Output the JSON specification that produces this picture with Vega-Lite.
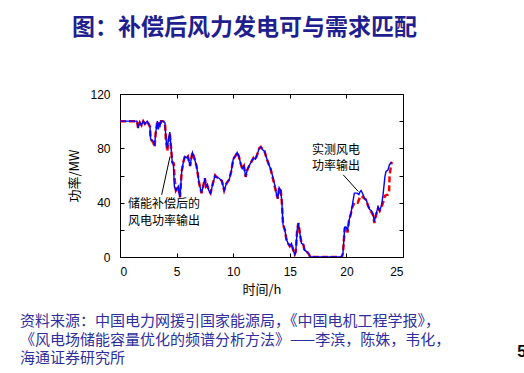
{
  "$schema": "https://vega.github.io/schema/vega-lite/v6.json",
  "autosize": "none",
  "width": 283,
  "height": 163,
  "padding": {"left": 120, "top": 94, "right": 121, "bottom": 116},
  "background": "white",
  "config": {"view": {"stroke": "black", "strokeWidth": 1}, "font": "Liberation Sans"},
  "title": {"text": "图：补偿后风力发电可与需求匹配", "anchor": "start", "frame": "group", "dx": -48, "offset": 48, "fontSize": 23, "font": "Noto Sans CJK SC", "fontWeight": "bold", "color": "#1F1F8F"},
  "datasets": {
    "series": [
      {"t": 0, "v": 100, "s": "补偿"}, {"t": 1.5, "v": 100, "s": "补偿"}, {"t": 1.6, "v": 95, "s": "补偿"}, {"t": 1.75, "v": 99, "s": "补偿"}, {"t": 1.9, "v": 97, "s": "补偿"}, {"t": 2.05, "v": 100, "s": "补偿"}, {"t": 2.2, "v": 98, "s": "补偿"}, {"t": 2.4, "v": 100, "s": "补偿"}, {"t": 2.65, "v": 96, "s": "补偿"}, {"t": 2.7, "v": 87, "s": "补偿"}, {"t": 2.95, "v": 84, "s": "补偿"}, {"t": 3.05, "v": 81, "s": "补偿"}, {"t": 3.15, "v": 91, "s": "补偿"}, {"t": 3.3, "v": 100, "s": "补偿"}, {"t": 3.38, "v": 94, "s": "补偿"}, {"t": 3.47, "v": 99, "s": "补偿"}, {"t": 3.55, "v": 97, "s": "补偿"}, {"t": 3.62, "v": 100, "s": "补偿"}, {"t": 3.8, "v": 100, "s": "补偿"}, {"t": 3.97, "v": 99, "s": "补偿"}, {"t": 4.06, "v": 86, "s": "补偿"}, {"t": 4.18, "v": 78, "s": "补偿"}, {"t": 4.26, "v": 84, "s": "补偿"}, {"t": 4.4, "v": 91, "s": "补偿"}, {"t": 4.5, "v": 81, "s": "补偿"}, {"t": 4.62, "v": 70, "s": "补偿"}, {"t": 4.75, "v": 69, "s": "补偿"}, {"t": 4.82, "v": 58, "s": "补偿"}, {"t": 4.94, "v": 49, "s": "补偿"}, {"t": 5.15, "v": 52, "s": "补偿"}, {"t": 5.24, "v": 46, "s": "补偿"}, {"t": 5.3, "v": 44, "s": "补偿"}, {"t": 5.45, "v": 63, "s": "补偿"}, {"t": 5.6, "v": 70, "s": "补偿"}, {"t": 5.73, "v": 74, "s": "补偿"}, {"t": 5.9, "v": 73, "s": "补偿"}, {"t": 6.0, "v": 74, "s": "补偿"}, {"t": 6.1, "v": 70, "s": "补偿"}, {"t": 6.2, "v": 67, "s": "补偿"}, {"t": 6.26, "v": 71, "s": "补偿"}, {"t": 6.4, "v": 77, "s": "补偿"}, {"t": 6.56, "v": 73, "s": "补偿"}, {"t": 6.76, "v": 67, "s": "补偿"}, {"t": 7.0, "v": 54, "s": "补偿"}, {"t": 7.2, "v": 47, "s": "补偿"}, {"t": 7.35, "v": 52, "s": "补偿"}, {"t": 7.5, "v": 58, "s": "补偿"}, {"t": 7.6, "v": 52, "s": "补偿"}, {"t": 7.7, "v": 53, "s": "补偿"}, {"t": 7.85, "v": 49, "s": "补偿"}, {"t": 8.0, "v": 47, "s": "补偿"}, {"t": 8.2, "v": 54, "s": "补偿"}, {"t": 8.4, "v": 60, "s": "补偿"}, {"t": 8.5, "v": 59, "s": "补偿"}, {"t": 8.75, "v": 58, "s": "补偿"}, {"t": 9.0, "v": 56, "s": "补偿"}, {"t": 9.2, "v": 49, "s": "补偿"}, {"t": 9.4, "v": 54, "s": "补偿"}, {"t": 9.65, "v": 57, "s": "补偿"}, {"t": 9.85, "v": 64, "s": "补偿"}, {"t": 10.0, "v": 72, "s": "补偿"}, {"t": 10.24, "v": 75, "s": "补偿"}, {"t": 10.35, "v": 77, "s": "补偿"}, {"t": 10.5, "v": 74, "s": "补偿"}, {"t": 10.65, "v": 69, "s": "补偿"}, {"t": 10.8, "v": 65, "s": "补偿"}, {"t": 10.95, "v": 67, "s": "补偿"}, {"t": 11.1, "v": 59, "s": "补偿"}, {"t": 11.24, "v": 64, "s": "补偿"}, {"t": 11.4, "v": 67, "s": "补偿"}, {"t": 11.6, "v": 70, "s": "补偿"}, {"t": 11.8, "v": 73, "s": "补偿"}, {"t": 11.97, "v": 72, "s": "补偿"}, {"t": 12.1, "v": 75, "s": "补偿"}, {"t": 12.3, "v": 80, "s": "补偿"}, {"t": 12.44, "v": 81, "s": "补偿"}, {"t": 12.6, "v": 79, "s": "补偿"}, {"t": 12.76, "v": 78, "s": "补偿"}, {"t": 12.94, "v": 73, "s": "补偿"}, {"t": 13.15, "v": 68, "s": "补偿"}, {"t": 13.3, "v": 65, "s": "补偿"}, {"t": 13.5, "v": 58, "s": "补偿"}, {"t": 13.7, "v": 51, "s": "补偿"}, {"t": 13.8, "v": 47, "s": "补偿"}, {"t": 13.94, "v": 43, "s": "补偿"}, {"t": 14.06, "v": 51, "s": "补偿"}, {"t": 14.2, "v": 49, "s": "补偿"}, {"t": 14.3, "v": 40, "s": "补偿"}, {"t": 14.4, "v": 24, "s": "补偿"}, {"t": 14.56, "v": 20, "s": "补偿"}, {"t": 14.7, "v": 13, "s": "补偿"}, {"t": 14.85, "v": 10, "s": "补偿"}, {"t": 15.0, "v": 8, "s": "补偿"}, {"t": 15.15, "v": 10, "s": "补偿"}, {"t": 15.3, "v": 5, "s": "补偿"}, {"t": 15.44, "v": 2, "s": "补偿"}, {"t": 15.53, "v": 4, "s": "补偿"}, {"t": 15.65, "v": 20, "s": "补偿"}, {"t": 15.76, "v": 25, "s": "补偿"}, {"t": 15.88, "v": 18, "s": "补偿"}, {"t": 16.03, "v": 10, "s": "补偿"}, {"t": 16.2, "v": 9, "s": "补偿"}, {"t": 16.3, "v": 5, "s": "补偿"}, {"t": 16.5, "v": 4, "s": "补偿"}, {"t": 16.7, "v": 2, "s": "补偿"}, {"t": 16.8, "v": 0, "s": "补偿"}, {"t": 19.6, "v": 0, "s": "补偿"}, {"t": 19.7, "v": 3, "s": "补偿"}, {"t": 19.85, "v": 21, "s": "补偿"}, {"t": 20.0, "v": 22, "s": "补偿"}, {"t": 20.1, "v": 18, "s": "补偿"}, {"t": 20.23, "v": 27, "s": "补偿"}, {"t": 20.4, "v": 32, "s": "补偿"}, {"t": 20.5, "v": 36, "s": "补偿"}, {"t": 20.7, "v": 40, "s": "补偿"}, {"t": 21.0, "v": 40, "s": "补偿"}, {"t": 21.1, "v": 42, "s": "补偿"}, {"t": 21.2, "v": 44, "s": "补偿"}, {"t": 21.3, "v": 45, "s": "补偿"}, {"t": 21.47, "v": 44, "s": "补偿"}, {"t": 21.6, "v": 43, "s": "补偿"}, {"t": 21.76, "v": 42, "s": "补偿"}, {"t": 21.9, "v": 38, "s": "补偿"}, {"t": 22.06, "v": 35, "s": "补偿"}, {"t": 22.2, "v": 33, "s": "补偿"}, {"t": 22.35, "v": 31, "s": "补偿"}, {"t": 22.47, "v": 25, "s": "补偿"}, {"t": 22.6, "v": 30, "s": "补偿"}, {"t": 22.7, "v": 33, "s": "补偿"}, {"t": 22.8, "v": 36, "s": "补偿"}, {"t": 22.94, "v": 34, "s": "补偿"}, {"t": 23.1, "v": 37, "s": "补偿"}, {"t": 23.24, "v": 40, "s": "补偿"}, {"t": 23.4, "v": 45, "s": "补偿"}, {"t": 23.67, "v": 46, "s": "补偿"}, {"t": 23.76, "v": 47, "s": "补偿"}, {"t": 23.82, "v": 60, "s": "补偿"}, {"t": 23.9, "v": 65, "s": "补偿"}, {"t": 24.0, "v": 70, "s": "补偿"},

      {"t": 0, "v": 100, "s": "实测"}, {"t": 1.5, "v": 100, "s": "实测"}, {"t": 1.6, "v": 95, "s": "实测"}, {"t": 1.75, "v": 99, "s": "实测"}, {"t": 1.9, "v": 97, "s": "实测"}, {"t": 2.05, "v": 100, "s": "实测"}, {"t": 2.2, "v": 98, "s": "实测"}, {"t": 2.4, "v": 100, "s": "实测"}, {"t": 2.65, "v": 96, "s": "实测"}, {"t": 2.7, "v": 87, "s": "实测"}, {"t": 2.95, "v": 85, "s": "实测"}, {"t": 3.05, "v": 82, "s": "实测"}, {"t": 3.15, "v": 91, "s": "实测"}, {"t": 3.3, "v": 100, "s": "实测"}, {"t": 3.38, "v": 94, "s": "实测"}, {"t": 3.47, "v": 99, "s": "实测"}, {"t": 3.55, "v": 97, "s": "实测"}, {"t": 3.62, "v": 100, "s": "实测"}, {"t": 3.8, "v": 100, "s": "实测"}, {"t": 3.97, "v": 99, "s": "实测"}, {"t": 4.06, "v": 87, "s": "实测"}, {"t": 4.18, "v": 80, "s": "实测"}, {"t": 4.26, "v": 85, "s": "实测"}, {"t": 4.4, "v": 92, "s": "实测"}, {"t": 4.5, "v": 82, "s": "实测"}, {"t": 4.62, "v": 69, "s": "实测"}, {"t": 4.72, "v": 68, "s": "实测"}, {"t": 4.8, "v": 52, "s": "实测"}, {"t": 4.94, "v": 49, "s": "实测"}, {"t": 5.15, "v": 52, "s": "实测"}, {"t": 5.24, "v": 46, "s": "实测"}, {"t": 5.3, "v": 44, "s": "实测"}, {"t": 5.45, "v": 63, "s": "实测"}, {"t": 5.6, "v": 70, "s": "实测"}, {"t": 5.73, "v": 74, "s": "实测"}, {"t": 5.9, "v": 73, "s": "实测"}, {"t": 6.0, "v": 74, "s": "实测"}, {"t": 6.1, "v": 70, "s": "实测"}, {"t": 6.2, "v": 67, "s": "实测"}, {"t": 6.26, "v": 71, "s": "实测"}, {"t": 6.4, "v": 77, "s": "实测"}, {"t": 6.56, "v": 73, "s": "实测"}, {"t": 6.76, "v": 67, "s": "实测"}, {"t": 7.0, "v": 54, "s": "实测"}, {"t": 7.2, "v": 47, "s": "实测"}, {"t": 7.35, "v": 52, "s": "实测"}, {"t": 7.5, "v": 58, "s": "实测"}, {"t": 7.6, "v": 52, "s": "实测"}, {"t": 7.7, "v": 53, "s": "实测"}, {"t": 7.85, "v": 49, "s": "实测"}, {"t": 8.0, "v": 47, "s": "实测"}, {"t": 8.2, "v": 54, "s": "实测"}, {"t": 8.4, "v": 60, "s": "实测"}, {"t": 8.5, "v": 59, "s": "实测"}, {"t": 8.75, "v": 58, "s": "实测"}, {"t": 9.0, "v": 56, "s": "实测"}, {"t": 9.2, "v": 49, "s": "实测"}, {"t": 9.4, "v": 54, "s": "实测"}, {"t": 9.65, "v": 57, "s": "实测"}, {"t": 9.85, "v": 64, "s": "实测"}, {"t": 10.0, "v": 72, "s": "实测"}, {"t": 10.24, "v": 75, "s": "实测"}, {"t": 10.35, "v": 77, "s": "实测"}, {"t": 10.5, "v": 74, "s": "实测"}, {"t": 10.65, "v": 69, "s": "实测"}, {"t": 10.8, "v": 65, "s": "实测"}, {"t": 10.95, "v": 67, "s": "实测"}, {"t": 11.1, "v": 59, "s": "实测"}, {"t": 11.24, "v": 64, "s": "实测"}, {"t": 11.4, "v": 67, "s": "实测"}, {"t": 11.6, "v": 70, "s": "实测"}, {"t": 11.8, "v": 73, "s": "实测"}, {"t": 11.97, "v": 72, "s": "实测"}, {"t": 12.1, "v": 75, "s": "实测"}, {"t": 12.3, "v": 80, "s": "实测"}, {"t": 12.44, "v": 81, "s": "实测"}, {"t": 12.6, "v": 79, "s": "实测"}, {"t": 12.76, "v": 78, "s": "实测"}, {"t": 12.94, "v": 73, "s": "实测"}, {"t": 13.15, "v": 68, "s": "实测"}, {"t": 13.3, "v": 65, "s": "实测"}, {"t": 13.5, "v": 59, "s": "实测"}, {"t": 13.7, "v": 52, "s": "实测"}, {"t": 13.8, "v": 47, "s": "实测"}, {"t": 13.94, "v": 43, "s": "实测"}, {"t": 14.06, "v": 51, "s": "实测"}, {"t": 14.2, "v": 49, "s": "实测"}, {"t": 14.3, "v": 40, "s": "实测"}, {"t": 14.4, "v": 24, "s": "实测"}, {"t": 14.56, "v": 20, "s": "实测"}, {"t": 14.7, "v": 13, "s": "实测"}, {"t": 14.85, "v": 10, "s": "实测"}, {"t": 15.0, "v": 8, "s": "实测"}, {"t": 15.15, "v": 10, "s": "实测"}, {"t": 15.3, "v": 5, "s": "实测"}, {"t": 15.44, "v": 2, "s": "实测"}, {"t": 15.53, "v": 4, "s": "实测"}, {"t": 15.65, "v": 20, "s": "实测"}, {"t": 15.76, "v": 25, "s": "实测"}, {"t": 15.88, "v": 18, "s": "实测"}, {"t": 16.03, "v": 10, "s": "实测"}, {"t": 16.2, "v": 9, "s": "实测"}, {"t": 16.3, "v": 5, "s": "实测"}, {"t": 16.5, "v": 4, "s": "实测"}, {"t": 16.7, "v": 2, "s": "实测"}, {"t": 16.8, "v": 0, "s": "实测"}, {"t": 19.6, "v": 0, "s": "实测"}, {"t": 19.7, "v": 3, "s": "实测"}, {"t": 19.85, "v": 22, "s": "实测"}, {"t": 20.0, "v": 22, "s": "实测"}, {"t": 20.1, "v": 19, "s": "实测"}, {"t": 20.23, "v": 27, "s": "实测"}, {"t": 20.4, "v": 32, "s": "实测"}, {"t": 20.5, "v": 37, "s": "实测"}, {"t": 20.7, "v": 47, "s": "实测"}, {"t": 20.8, "v": 47, "s": "实测"}, {"t": 20.95, "v": 47, "s": "实测"}, {"t": 21.1, "v": 46, "s": "实测"}, {"t": 21.2, "v": 48, "s": "实测"}, {"t": 21.3, "v": 49, "s": "实测"}, {"t": 21.47, "v": 46, "s": "实测"}, {"t": 21.6, "v": 43, "s": "实测"}, {"t": 21.76, "v": 42, "s": "实测"}, {"t": 21.9, "v": 38, "s": "实测"}, {"t": 22.06, "v": 35, "s": "实测"}, {"t": 22.2, "v": 34, "s": "实测"}, {"t": 22.35, "v": 32, "s": "实测"}, {"t": 22.47, "v": 26, "s": "实测"}, {"t": 22.6, "v": 31, "s": "实测"}, {"t": 22.7, "v": 34, "s": "实测"}, {"t": 22.8, "v": 37, "s": "实测"}, {"t": 22.94, "v": 34, "s": "实测"}, {"t": 23.1, "v": 38, "s": "实测"}, {"t": 23.24, "v": 46, "s": "实测"}, {"t": 23.4, "v": 59, "s": "实测"}, {"t": 23.5, "v": 63, "s": "实测"}, {"t": 23.67, "v": 64, "s": "实测"}, {"t": 23.8, "v": 68, "s": "实测"}, {"t": 24.0, "v": 70, "s": "实测"}
    ],
    "leaders": [
      {"g": "a", "t": 3.68, "v": 45.8}, {"g": "a", "t": 4.42, "v": 74},
      {"g": "b", "t": 19.72, "v": 60.5}, {"g": "b", "t": 21.05, "v": 48.2}
    ],
    "labels": [
      {"t": 0.7, "v": 39.2, "txt": "储能补偿后的"},
      {"t": 0.7, "v": 26.2, "txt": "风电功率输出"},
      {"t": 16.96, "v": 78.8, "txt": "实测风电"},
      {"t": 16.96, "v": 67.1, "txt": "功率输出"}
    ],
    "notes": [
      {"t": -8.83, "v": -46.8, "txt": "资料来源：中国电力网援引国家能源局，《中国电机工程学报》，"},
      {"t": -8.83, "v": -61.0, "txt": "《风电场储能容量优化的频谱分析方法》——李滨，陈姝，韦化，"},
      {"t": -8.83, "v": -74.2, "txt": "海通证券研究所"}
    ],
    "page": [{"t": 35.1, "v": -69.6, "txt": "5"}]
  },
  "resolve": {"axis": {"x": "independent", "y": "independent"}},
  "layer": [
    {
      "encoding": {
        "x": {"field": "t", "type": "quantitative", "scale": {"domain": [0, 25], "nice": false},
          "axis": {"orient": "bottom", "values": [0, 5, 10, 15, 20, 25], "tickSize": -4, "tickColor": "black", "domain": false, "grid": false, "labelFont": "Liberation Sans", "labelFontSize": 12, "labelColor": "black", "labelPadding": 13, "title": "时间/h", "titleFont": "Noto Sans CJK SC", "titleFontSize": 13, "titleFontWeight": "normal", "titleColor": "black", "titlePadding": 6}},
        "y": {"field": "v", "type": "quantitative", "scale": {"domain": [0, 120], "nice": false},
          "axis": {"orient": "left", "values": [0, 20, 40, 60, 80, 100, 120], "labelExpr": "datum.value % 40 == 0 ? datum.label : ''", "tickSize": -4, "tickColor": "black", "domain": false, "grid": false, "labelFont": "Liberation Sans", "labelFontSize": 12, "labelColor": "black", "labelPadding": 14, "title": "功率/MW", "titleFont": "Noto Sans CJK SC", "titleFontSize": 13, "titleFontWeight": "normal", "titleColor": "black", "titlePadding": 8}}
      },
      "layer": [
        {
          "data": {"name": "series"},
          "transform": [{"filter": "datum.s == '补偿'"}],
          "mark": {"type": "line", "color": "#FF0000", "strokeWidth": 2.5, "strokeDash": [6, 3], "clip": true}
        },
        {
          "data": {"name": "leaders"},
          "mark": {"type": "line", "color": "black", "strokeWidth": 1},
          "encoding": {"detail": {"field": "g"}}
        },
        {
          "data": {"name": "labels"},
          "mark": {"type": "text", "align": "left", "baseline": "middle", "font": "Noto Sans CJK SC", "fontSize": 12, "color": "black"},
          "encoding": {"text": {"field": "txt"}}
        },
        {
          "data": {"name": "notes"},
          "mark": {"type": "text", "align": "left", "baseline": "middle", "font": "Noto Sans CJK SC", "fontSize": 15, "color": "#2E2EA0"},
          "encoding": {"text": {"field": "txt"}}
        },
        {
          "data": {"name": "page"},
          "mark": {"type": "text", "align": "left", "baseline": "middle", "font": "Liberation Sans", "fontSize": 16, "fontWeight": "bold", "color": "black"},
          "encoding": {"text": {"field": "txt"}}
        }
      ]
    },
    {
      "data": {"name": "series"},
      "transform": [{"filter": "datum.s == '实测'"}],
      "mark": {"type": "line", "color": "#0000FF", "strokeWidth": 1.4, "clip": true},
      "encoding": {
        "x": {"field": "t", "type": "quantitative", "axis": {"orient": "top", "values": [0, 5, 10, 15, 20, 25], "tickSize": -4, "tickColor": "black", "labels": false, "domain": false, "grid": false, "title": null}},
        "y": {"field": "v", "type": "quantitative", "axis": {"orient": "right", "values": [0, 20, 40, 60, 80, 100, 120], "tickSize": -4, "tickColor": "black", "labels": false, "domain": false, "grid": false, "title": null}}
      }
    }
  ]
}
